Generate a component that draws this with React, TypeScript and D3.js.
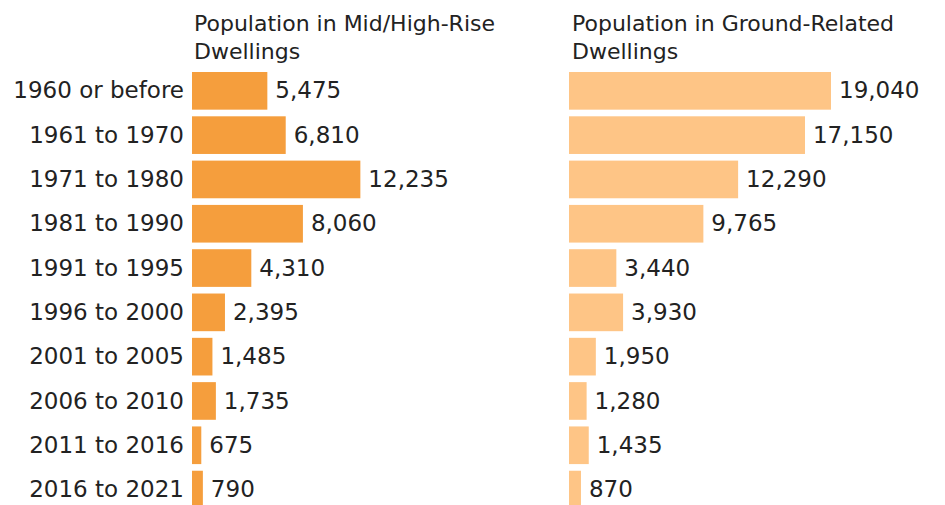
import React from "react";
import * as d3 from "d3";

const categories = [
  "1960 or before",
  "1961 to 1970",
  "1971 to 1980",
  "1981 to 1990",
  "1991 to 1995",
  "1996 to 2000",
  "2001 to 2005",
  "2006 to 2010",
  "2011 to 2016",
  "2016 to 2021",
];
const midHighRise = [5475, 6810, 12235, 8060, 4310, 2395, 1485, 1735, 675, 790];
const groundRelated = [19040, 17150, 12290, 9765, 3440, 3930, 1950, 1280, 1435, 870];
const titleLeft = ["Population in Mid/High-Rise", "Dwellings"];
const titleRight = ["Population in Ground-Related", "Dwellings"];

const W = 945;
const H = 505;
const FONT = "'DejaVu Sans', sans-serif";

export default function App() {
  const y = d3
    .scaleBand<string>()
    .domain(categories)
    .range([72, 508.4])
    .paddingInner(0.15)
    .paddingOuter(0);
  const x = d3.scaleLinear().domain([0, 19040]).range([0, 262]);
  const fmt = d3.format(",");
  const leftX0 = 192;
  const rightX0 = 569;

  const panel = (values: number[], x0: number, color: string) =>
    values.map((v, i) => {
      const c = categories[i];
      const yy = y(c)!;
      const w = x(v);
      return (
        <g key={c}>
          <rect x={x0} y={yy} width={w} height={y.bandwidth()} fill={color} />
          <text
            x={x0 + w + 8}
            y={yy + y.bandwidth() / 2}
            dy="0.33em"
            fontSize={23}
            fill="#222"
          >
            {fmt(v)}
          </text>
        </g>
      );
    });

  return (
    <svg
      width={W}
      height={H}
      style={{ position: "absolute", left: 0, top: 0, display: "block", background: "#fff" }}
      fontFamily={FONT}
    >
      {categories.map((c) => (
        <text
          key={c}
          x={184}
          y={y(c)! + y.bandwidth() / 2}
          dy="0.33em"
          textAnchor="end"
          fontSize={23}
          fill="#222"
        >
          {c}
        </text>
      ))}
      {titleLeft.map((t, i) => (
        <text key={t} x={194} y={31 + i * 27.5} fontSize={22} fill="#222">
          {t}
        </text>
      ))}
      {titleRight.map((t, i) => (
        <text key={t} x={572} y={31 + i * 27.5} fontSize={22} fill="#222">
          {t}
        </text>
      ))}
      {panel(midHighRise, leftX0, "#F59E3D")}
      {panel(groundRelated, rightX0, "#FEC586")}
    </svg>
  );
}
